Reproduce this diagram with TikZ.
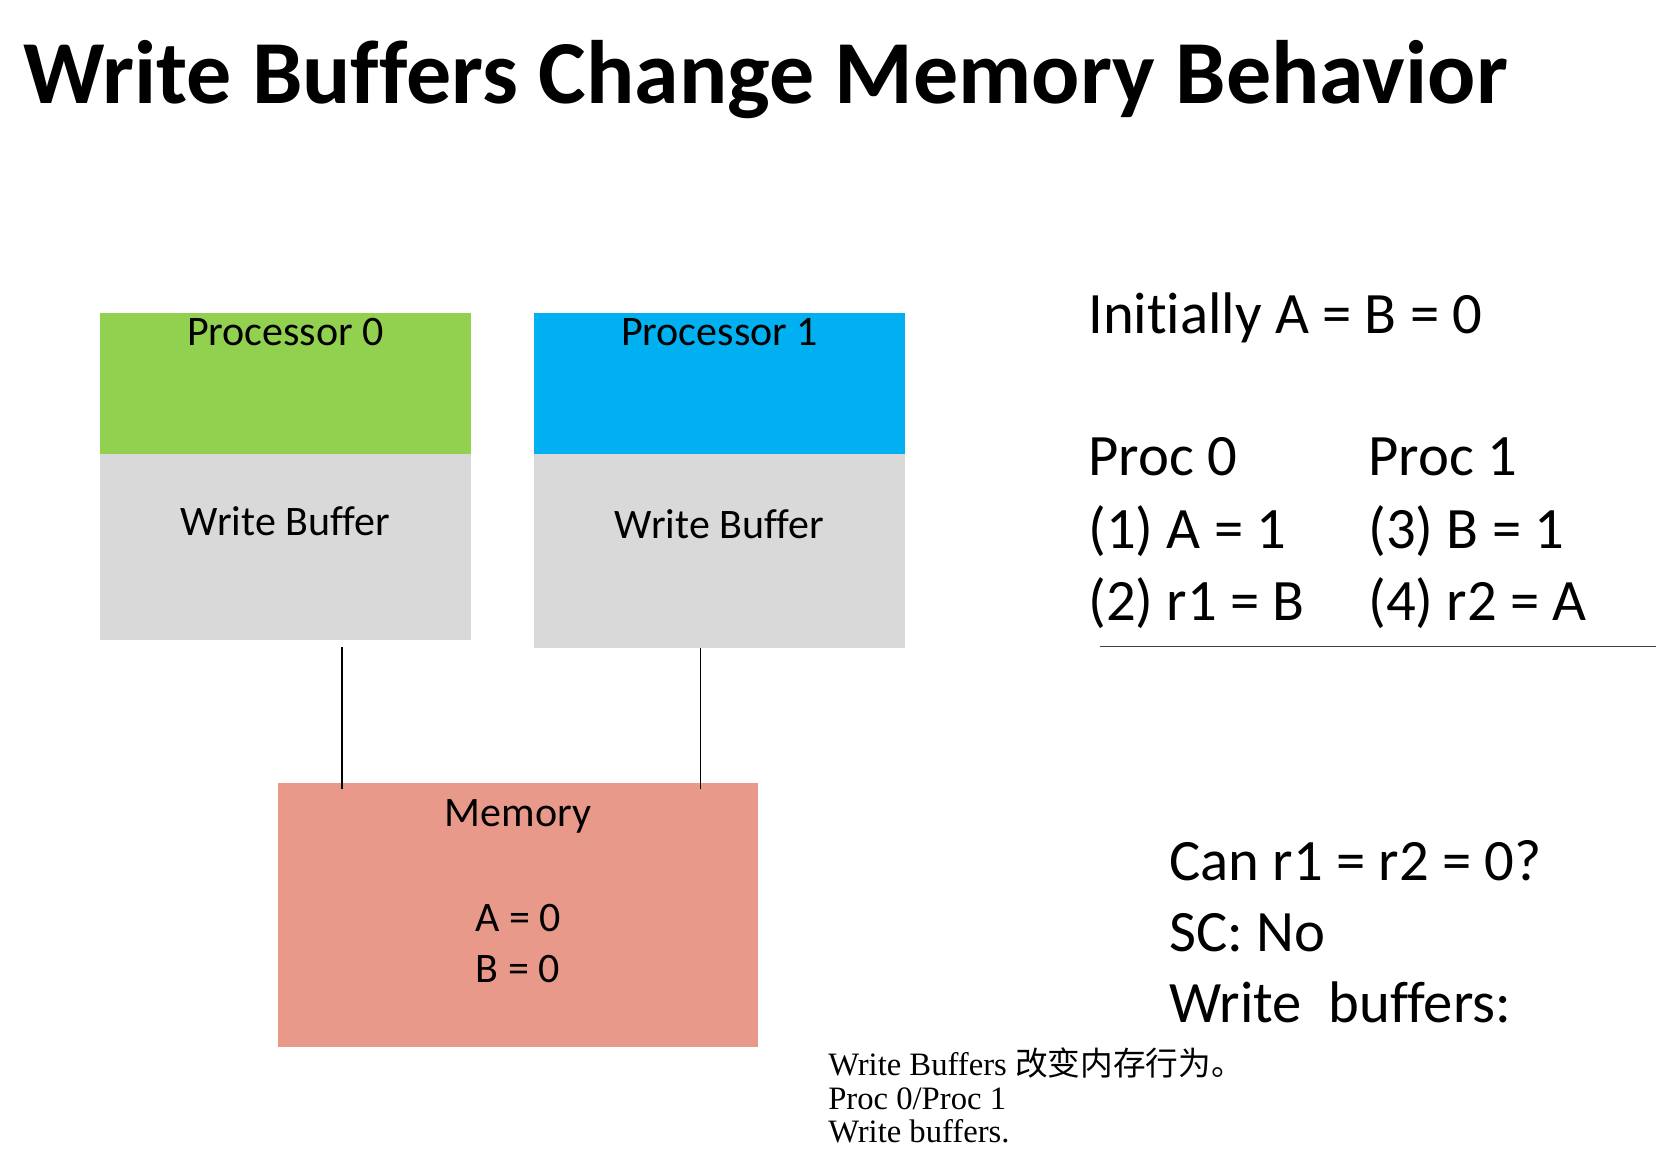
\documentclass[tikz,border=0pt]{standalone}
\usepackage{fontspec}
\setmainfont{Carlito}[Ligatures=CommonOff]
\newfontfamily\notefont{Liberation Serif}
\newfontfamily\cjk{Noto Sans CJK SC}
\usetikzlibrary{fit,calc}
\definecolor{pgreen}{HTML}{92D050}
\definecolor{pblue}{HTML}{00B0F0}
\definecolor{bgray}{HTML}{D9D9D9}
\definecolor{msalmon}{HTML}{E9998A}
\definecolor{rulegray}{HTML}{404040}
\begin{document}
\begin{tikzpicture}[x=0.75pt,y=-0.75pt,
  box/.style={inner sep=0pt, outer sep=0pt},
  lbl/.style={anchor=base, inner sep=0pt, font=\fontsize{31.5}{38}\selectfont},
  big/.style={anchor=base west, inner sep=0pt, font=\fontsize{44}{54}\selectfont},
  wire/.style={line width=1.1pt, black},
  note/.style={anchor=base west, inner sep=0pt, font=\notefont\fontsize{24.5}{24.75}\selectfont}]
\useasboundingbox[fill=white] (0,0) rectangle (1662,1174);
% title
\node[anchor=base west, inner sep=0pt, font=\bfseries\fontsize{67.5}{80}\selectfont] (title) at (23,103) {Write Buffers Change Memory Behavior};
% boxes
\node[box, fill=pgreen, fit={(100,313)(471,454)}] (p0) {};
\node[box, fill=bgray, fit={(100,454)(471,640)}] (wb0) {};
\node[box, fill=pblue, fit={(534,313)(905,454)}] (p1) {};
\node[box, fill=bgray, fit={(534,454)(905,648)}] (wb1) {};
\node[box, fill=msalmon, fit={(278,783)(758,1047)}] (mem) {};
% box labels
\node[lbl] (p0t) at (285.5,345) {Processor 0};
\node[lbl] (wb0t) at (285.5,535) {Write Buffer};
\node[lbl] (p1t) at (719.5,345) {Processor 1};
\node[lbl] (wb1t) at (719.5,538) {Write Buffer};
\node[lbl] (memt) at (518,826) {Memory};
\node[lbl] (memA) at (518,931) {A = 0};
\node[lbl] (memB) at (518,982) {B = 0};
% connectors
\coordinate (x0) at (342,0);
\coordinate (x1) at (700.5,0);
\draw[wire] ($(wb0.south -| x0)+(0,7)$) -- ($(mem.north -| x0)+(0,6)$);
\draw[wire] ($(wb1.south -| x1)+(0,0)$) -- ($(mem.north -| x1)+(0,6)$);
% right text
\node[big] (init) at (1088,333) {Initially A = B = 0};
\node[big] (pr0) at (1088,475) {Proc 0};
\node[big] (s1) at (1088,548) {(1) A = 1};
\node[big] (s2) at (1088,620) {(2) r1 = B};
\node[big] (pr1) at (1368,475) {Proc 1};
\node[big] (s3) at (1368,548) {(3) B = 1};
\node[big] (s4) at (1368,620) {(4) r2 = A};
\coordinate (r0) at (1100,646.5);
\coordinate (r1) at (1656,646.5);
\draw[rulegray, line width=0.9pt] (r0) -- (r1);
\node[big] (q1) at (1169,880) {Can r1 = r2 = 0?};
\node[big] (q2) at (1169,951) {SC: No};
\node[big] (q3) at (1169,1022) {Write\ \ buffers:};
% note
\node[note] (note1) at (828,1075) {Write Buffers {\cjk 改变内存行为。}};
\node[note] (note2) at (828,1109) {Proc 0/Proc 1};
\node[note] (note3) at (828,1142) {Write buffers.};
\end{tikzpicture}
\end{document}
